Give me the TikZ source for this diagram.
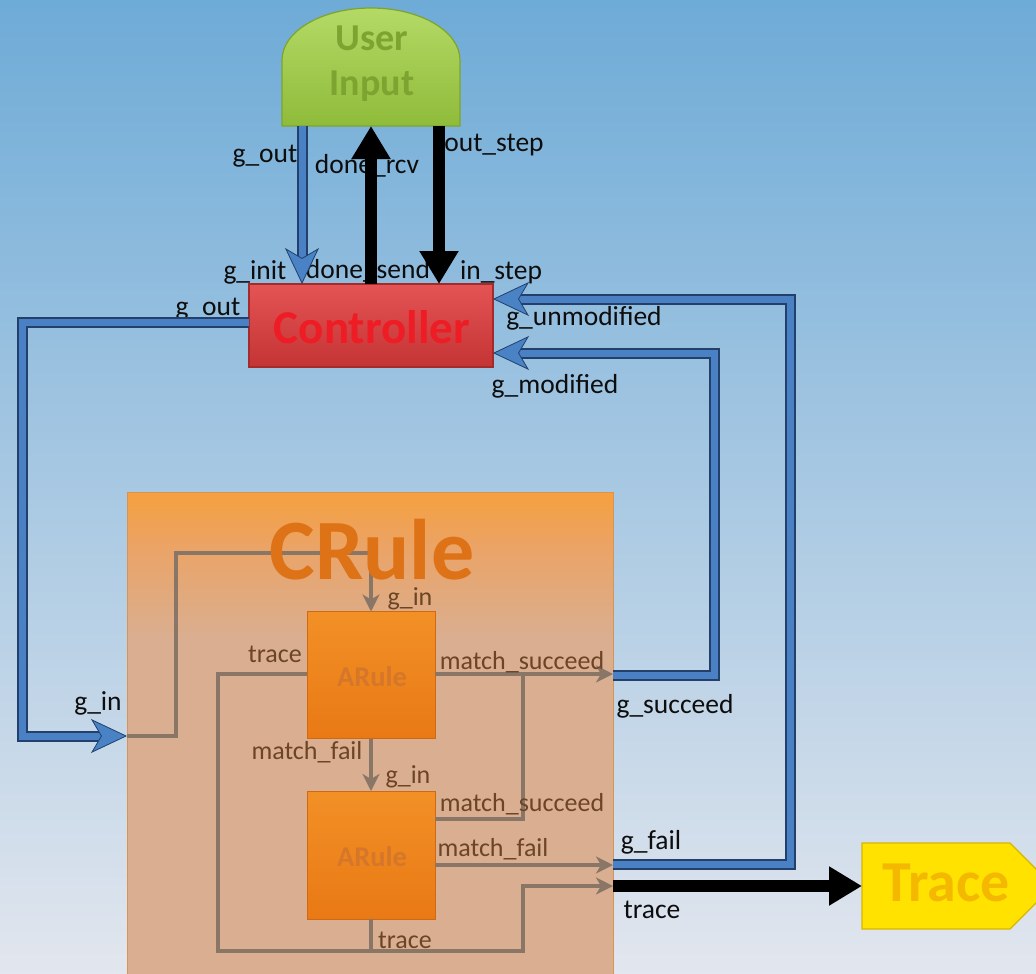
\documentclass[tikz,border=0pt]{standalone}
\usepackage{fontspec}
\setmainfont{Carlito}
\usetikzlibrary{arrows.meta}

% background and wires
\definecolor{bgtop}{HTML}{6EABD7}
\definecolor{bgmid}{HTML}{A9C0E5}
\definecolor{bgbot}{HTML}{E2E6EE}
\definecolor{wiredark}{HTML}{22406A}
\definecolor{wiremid}{HTML}{4A80C4}
\definecolor{tipblue}{HTML}{4A82C6}
\definecolor{innerc}{HTML}{8A7667}
\definecolor{lbltext}{HTML}{0D0D0D}
\definecolor{lblinner}{HTML}{6B4526}
% blocks
\definecolor{crtop}{HTML}{F6A03E}
\definecolor{crmid}{HTML}{EAA468}
\definecolor{crbot}{HTML}{DAAE90}
\definecolor{crborder}{HTML}{D89454}
\definecolor{crtext}{HTML}{DE7216}
\definecolor{ctrltop}{HTML}{E45454}
\definecolor{ctrlbot}{HTML}{C43434}
\definecolor{ctrlborder}{HTML}{A52A2A}
\definecolor{ctrltext}{HTML}{EE1C24}
\definecolor{uitop}{HTML}{B4DA66}
\definecolor{uibot}{HTML}{8FBB3A}
\definecolor{uiborder}{HTML}{7DA52C}
\definecolor{uitext}{HTML}{7DA430}
\definecolor{artop}{HTML}{F29026}
\definecolor{arbot}{HTML}{E97914}
\definecolor{arborder}{HTML}{CF6A10}
\definecolor{artext}{HTML}{D5772A}
\definecolor{trfill}{HTML}{FFE200}
\definecolor{trborder}{HTML}{D8B600}
\definecolor{trtext}{HTML}{F4B800}

\pgfdeclareverticalshading{cruleshade}{100bp}{color(0bp)=(crbot); color(60bp)=(crbot); color(69bp)=(crmid); color(75bp)=(crtop); color(100bp)=(crtop)}

\begin{document}
\begin{tikzpicture}[x=1pt,y=-1pt,
  lbl/.style={inner sep=0pt, text=lbltext, font=\fontsize{27.5pt}{30pt}\selectfont},
  ilbl/.style={inner sep=0pt, text=lblinner, font=\fontsize{26pt}{28pt}\selectfont},
  title/.style={inner sep=0pt, align=center, font=\bfseries#1},
  port/.style={inner sep=0pt, outer sep=0pt},
  bluewire/.style={line width=7pt, draw=wiremid, line join=miter,
    -{Stealth[length=36pt,width=34pt,inset=10pt,line width=0.8pt,color=wiredark,fill=tipblue]},
    preaction={draw=wiredark, line width=11pt, line join=miter, -, shorten >=20pt}},
  blackwire/.style={line width=12pt, draw=black, -{Triangle[length=33pt,width=37pt]}},
  innerwire/.style={line width=4pt, draw=innerc, line join=miter,
    -{Stealth[length=17pt,width=17pt,inset=5pt]}},
  innerline/.style={line width=4pt, draw=innerc, line join=miter}]

\useasboundingbox (0,0) rectangle (1036,974);
\shade[top color=bgtop, middle color=bgmid, bottom color=bgbot] (0,0) rectangle (1036,974);

% ---- CRule container ----
\node[port, minimum width=486pt, minimum height=484pt, draw=crborder, line width=1pt,
      shading=cruleshade] (crule) at (370,734) {};

% ---- ARule blocks ----
\node[port, minimum width=128pt, minimum height=127pt, draw=arborder, line width=1pt,
      top color=artop, bottom color=arbot] (ar1) at (371,675) {};
\node[port, minimum width=128pt, minimum height=128pt, draw=arborder, line width=1pt,
      top color=artop, bottom color=arbot] (ar2) at (371,855) {};

% ---- inner wiring of CRule ----
\draw[innerwire] (crule.west |- 0,736) -- (176,736) -- (176,553) -- (371,553) -- (ar1.north);
\draw[innerwire] (ar1.east |- 0,674) -- (crule.east |- 0,674);
\draw[innerline] (ar2.east |- 0,819) -- (523,819) -- (523,674);
\draw[innerwire] (ar1.south) -- (ar2.north);
\draw[innerwire] (ar2.east |- 0,865) -- (crule.east |- 0,865);
\draw[innerwire] (ar1.west |- 0,674) -- (218,674) -- (218,951) -- (523,951) -- (523,886) -- (crule.east |- 0,886);
\draw[innerline] (ar2.south) -- (371,951);

\node[title={\fontsize{86pt}{86pt}\selectfont}, text=crtext, text depth=0pt] (crule-text) at (372,549) {CRule};
\node[title={\fontsize{28.5pt}{30pt}\selectfont}, text=artext] (ar1-text) at (372,677) {ARule};
\node[title={\fontsize{28.5pt}{30pt}\selectfont}, text=artext] (ar2-text) at (372,857) {ARule};

% ---- Controller ----
\node[port, minimum width=244pt, minimum height=83pt, draw=ctrlborder, line width=1.2pt,
      top color=ctrltop, bottom color=ctrlbot] (ctrl) at (371,325.5) {};
\node[title={\fontsize{47pt}{50pt}\selectfont}, text=ctrltext] (ctrl-text) at (372,327) {Controller};

% ---- User Input ----
\node[port, minimum width=178pt, minimum height=126pt] (ui) at (371,63) {};
\path[draw=uiborder, line width=1.2pt, top color=uitop, bottom color=uibot]
  (282,126) -- (282,60) .. controls (282,31.3) and (321.8,8) .. (371,8)
  .. controls (420.2,8) and (460,31.3) .. (460,60) -- (460,126) -- cycle;
\node[title={\fontsize{38pt}{45pt}\selectfont}, text=uitext] (ui-text) at (372,64) {User\\Input};

% ---- Trace ----
\node[port, minimum width=148pt, minimum height=86pt] (trace) at (936,886) {};
\path[fill=trfill, draw=trborder, line width=1.2pt]
  (trace.north west) -- (trace.north east) -- ([xshift=43pt]trace.east)
  -- (trace.south east) -- (trace.south west) -- cycle;
\node[title={\fontsize{58pt}{60pt}\selectfont}, text=trtext] (trace-text) at (946,883) {Trace};

% ---- labels ----
\node[lbl] (l-gout-ui) at (265,156) {g\_out};
\node[lbl] (l-donercv) at (367,166) {done\_rcv};
\node[lbl] (l-outstep) at (494,145) {out\_step};
\node[lbl] (l-ginit) at (255,272) {g\_init};
\node[lbl] (l-donesend) at (368,271) {done\_send};
\node[lbl] (l-instep) at (501,272) {in\_step};
\node[lbl] (l-gout-ctrl) at (208,309) {g\_out};
\node[lbl] (l-gunmod) at (584,318) {g\_unmodified};
\node[lbl] (l-gmod) at (555,386) {g\_modified};
\node[lbl] (l-gin-cr) at (98,703) {g\_in};
\node[lbl] (l-gsucc) at (675,706) {g\_succeed};
\node[lbl] (l-gfail) at (651,842) {g\_fail};
\node[lbl] (l-trace-out) at (652,910) {trace};

\node[ilbl] (l-gin-a1) at (410,599) {g\_in};
\node[ilbl] (l-trace-a1) at (275,654) {trace};
\node[ilbl] (l-ms-a1) at (522,662) {match\_succeed};
\node[ilbl] (l-mf-a1) at (307,752) {match\_fail};
\node[ilbl] (l-gin-a2) at (408,777) {g\_in};
\node[ilbl] (l-ms-a2) at (522,804) {match\_succeed};
\node[ilbl] (l-mf-a2) at (493,849) {match\_fail};
\node[ilbl] (l-trace-a2) at (405,940) {trace};

% ---- outer wiring ----
\draw[bluewire] (302,0 |- ui.south) -- (302,0 |- ctrl.north);
\draw[blackwire] (371,0 |- ctrl.north) -- (371,0 |- ui.south);
\draw[blackwire] (439,0 |- ui.south) -- (439,0 |- ctrl.north);
\draw[bluewire] (ctrl.west |- 0,322) -- (22,322) -- (22,736) -- (crule.west |- 0,736);
\draw[bluewire] (crule.east |- 0,675) -- (714,675) -- (714,353) -- (ctrl.east |- 0,353);
\draw[bluewire] (crule.east |- 0,864) -- (790,864) -- (790,299) -- (ctrl.east |- 0,299);
\draw[blackwire] (crule.east |- trace.west) -- (trace.west);

\end{tikzpicture}
\end{document}
